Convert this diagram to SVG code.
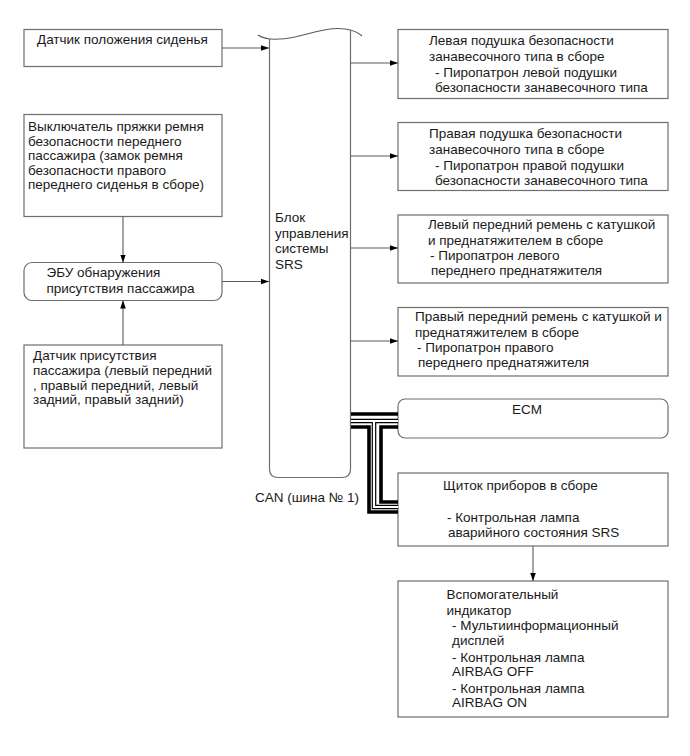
<svg xmlns="http://www.w3.org/2000/svg" width="690" height="756" viewBox="0 0 690 756">
<defs>
<style>
.box{fill:#fff;stroke:#6e6e6e;stroke-width:1.2}
.ln{fill:none;stroke:#5a5a5a;stroke-width:1.1}
text{font-family:"Liberation Sans",Arial,sans-serif;font-size:13.5px;fill:#1a1a1a}
.blk{fill:none;stroke:#000;stroke-width:3.6}
.hol{fill:none;stroke:#000;stroke-width:4.6}
.holw{fill:none;stroke:#fff;stroke-width:2.2}
</style>
<marker id="ah" viewBox="0 0 10 10" refX="10" refY="5" markerWidth="8" markerHeight="8" markerUnits="userSpaceOnUse" orient="auto">
<path d="M0,1.5 L10,5 L0,8.5 Z" fill="#000"/>
</marker>
</defs>
<rect width="690" height="756" fill="#fff"/>

<g id="seat-pos-sensor">
<rect class="box" x="24" y="29.5" width="198" height="37"/>
<text x="37" y="44">Датчик положения сиденья</text>
</g>

<g id="buckle-switch">
<rect class="box" x="24" y="114.5" width="198" height="102"/>
<text x="28" y="131">Выключатель пряжки ремня</text>
<text x="28" y="145.5">безопасности переднего</text>
<text x="28" y="160">пассажира (замок ремня</text>
<text x="28" y="174.5">безопасности правого</text>
<text x="28" y="189">переднего сиденья в сборе)</text>
</g>

<g id="occupant-ecu">
<rect class="box" x="24" y="262.5" width="198" height="38" rx="8"/>
<text x="46.5" y="277">ЭБУ обнаружения</text>
<text x="46.5" y="293">присутствия пассажира</text>
</g>

<g id="occupant-sensor">
<rect class="box" x="24" y="345" width="198" height="103"/>
<text x="33" y="360">Датчик присутствия</text>
<text x="33" y="375">пассажира (левый передний</text>
<text x="33" y="389.5">, правый передний, левый</text>
<text x="33" y="404">задний, правый задний)</text>
</g>

<g id="srs-ecu">
<path class="box" d="M269.5,39 V469 Q269.5,477.5 278,477.5 H342 Q350.5,477.5 350.5,469 V30.5"/>
<path class="ln" d="M258,35 C265,40 280,40 295,37 C315,32 330,27 345,29 C352,30 358,32 362,36"/>
<text x="275" y="222">Блок</text>
<text x="275" y="237.5">управления</text>
<text x="275" y="253">системы</text>
<text x="275" y="268.5">SRS</text>
</g>

<g id="left-curtain">
<rect class="box" x="398" y="29.5" width="270" height="69"/>
<text x="429" y="45">Левая подушка безопасности</text>
<text x="429" y="61">занавесочного типа в сборе</text>
<text x="435" y="76.5">- Пиропатрон левой подушки</text>
<text x="435" y="92">безопасности занавесочного типа</text>
</g>

<g id="right-curtain">
<rect class="box" x="398" y="122.5" width="270" height="68"/>
<text x="429" y="138">Правая подушка безопасности</text>
<text x="429" y="154">занавесочного типа в сборе</text>
<text x="435" y="169.5">- Пиропатрон правой подушки</text>
<text x="435" y="185">безопасности занавесочного типа</text>
</g>

<g id="left-pretensioner">
<rect class="box" x="398" y="215" width="270" height="68"/>
<text x="428" y="229">Левый передний ремень с катушкой</text>
<text x="428" y="245">и преднатяжителем в сборе</text>
<text x="430" y="260">- Пиропатрон левого</text>
<text x="431" y="275">переднего преднатяжителя</text>
</g>

<g id="right-pretensioner">
<rect class="box" x="398" y="307.5" width="270" height="68.5"/>
<text x="415" y="321">Правый передний ремень с катушкой и</text>
<text x="415" y="337">преднатяжителем в сборе</text>
<text x="417" y="352">- Пиропатрон правого</text>
<text x="418" y="367">переднего преднатяжителя</text>
</g>

<g id="ecm">
<rect class="box" x="398" y="399" width="270" height="39" rx="7"/>
<text x="527" y="414" text-anchor="middle">ECM</text>
</g>

<g id="combination-meter">
<rect class="box" x="398" y="473" width="270" height="73"/>
<text x="443" y="490">Щиток приборов в сборе</text>
<text x="447" y="522">- Контрольная лампа</text>
<text x="448" y="537">аварийного состояния SRS</text>
</g>

<g id="sub-indicator">
<rect class="box" x="398" y="581" width="270" height="136"/>
<text x="446.5" y="599">Вспомогательный</text>
<text x="446.5" y="615">индикатор</text>
<text x="452" y="630">- Мультиинформационный</text>
<text x="452" y="645">дисплей</text>
<text x="452" y="661.5">- Контрольная лампа</text>
<text x="452" y="676">AIRBAG OFF</text>
<text x="452" y="692.5">- Контрольная лампа</text>
<text x="452" y="707">AIRBAG ON</text>
</g>

<g id="can-label">
<text x="255" y="502">CAN (шина № 1)</text>
</g>

<g id="connectors">
<path class="ln" d="M222,48 H269" marker-end="url(#ah)"/>
<path class="ln" d="M123,216.5 V262.5" marker-end="url(#ah)"/>
<path class="ln" d="M123,345 V300.5" marker-end="url(#ah)"/>
<path class="ln" d="M222,281.5 H269" marker-end="url(#ah)"/>
<path class="ln" d="M350.5,63 H398" marker-end="url(#ah)"/>
<path class="ln" d="M350.5,156 H398" marker-end="url(#ah)"/>
<path class="ln" d="M350.5,248 H398" marker-end="url(#ah)"/>
<path class="ln" d="M350.5,341 H398" marker-end="url(#ah)"/>
<path class="ln" d="M533,546 V581" marker-end="url(#ah)"/>
<g id="can-bus">
<path class="blk" d="M351,414 H398"/>
<path class="blk" d="M351,427 H369 V512 H398"/>
<path class="blk" d="M398,427 H381 V502 H398"/>
<path class="hol" d="M351,421 H398 M374,421 V507 H398"/>
<path class="holw" d="M351,421 H398 M374,421 V507 H398"/>
</g>
</g>
</svg>
